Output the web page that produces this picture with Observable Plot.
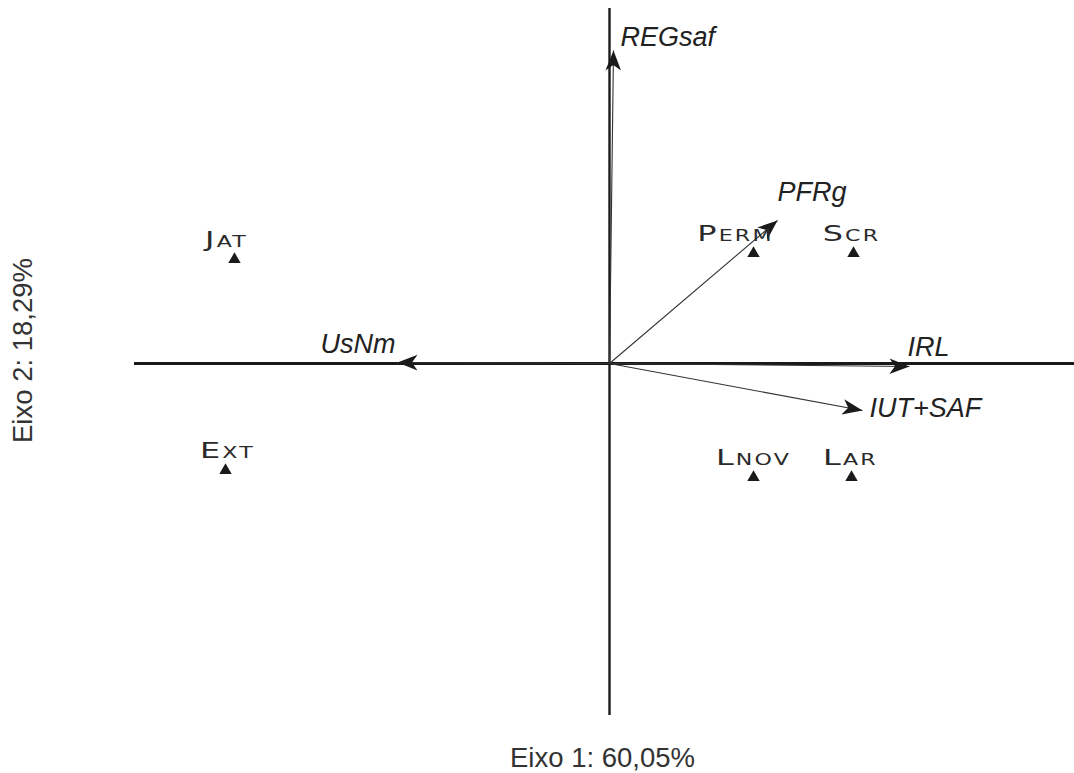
<!DOCTYPE html>
<html>
<head>
<meta charset="utf-8">
<script src="https://cdn.jsdelivr.net/npm/d3@7"></script>
<script src="https://cdn.jsdelivr.net/npm/@observablehq/plot@0.6"></script>
<style>
  html, body { margin: 0; padding: 0; background: #fff; }
  #chart svg { display: block; }
</style>
</head>
<body>
<div id="chart"></div>
<script>
// ---- Data ----
const sites = ["Jat", "Ext", "Perm", "Scr", "Lnov", "Lar"];
const siteAxis1 = [-3.75, -3.84, 1.44, 2.44, 1.44, 2.42];
const siteAxis2 = [1.04, -1.07, 1.10, 1.10, -1.14, -1.14];

const variables = ["REGsaf", "PFRg", "IRL", "IUT+SAF", "UsNm"];
const varAxis1 = [0.04, 1.68, 3.00, 2.53, -2.12];
const varAxis2 = [3.13, 1.43, -0.03, -0.47, 0.01];

const axis1Extent = [-4.75, 4.65];
const axis2Extent = [-3.52, 3.55];
const xTitle = "Eixo 1: 60,05%";
const yTitle = "Eixo 2: 18,29%";

// ---- Tables built from the arrays ----
const siteData = sites.map((name, i) => ({name, x: siteAxis1[i], y: siteAxis2[i]}));
const varData = variables.map((name, i) => ({name, x: varAxis1[i], y: varAxis2[i]}));

// label layout (pixel offsets only)
const siteDx = {Jat: -8, Ext: 2, Perm: -18, Scr: -2, Lnov: 0, Lar: -1};
const varLabel = {
  "REGsaf": {anchor: "start", dx: 7, dy: -13},
  "PFRg": {anchor: "start", dx: 0, dy: -28},
  "IRL": {anchor: "start", dx: -2, dy: -19},
  "IUT+SAF": {anchor: "start", dx: 7, dy: -2},
  "UsNm": {anchor: "end", dx: -2, dy: -18}
};

// filled arrowhead with its tip at the origin, pointing up
const arrowHead = {
  draw(context, size) {
    const r = Math.sqrt(size / Math.PI);
    context.moveTo(0, 0);
    context.lineTo(0.78 * r, 2 * r);
    context.lineTo(0, 1.45 * r);
    context.lineTo(-0.78 * r, 2 * r);
    context.closePath();
  }
};

const ink = "#1a1a1a";
const sansFont = "'Liberation Sans', Arial, sans-serif";

const marks = [
  // axes
  Plot.ruleY([0], {x1: axis1Extent[0], x2: axis1Extent[1], stroke: ink, strokeWidth: 3}),
  Plot.ruleX([0], {y1: axis2Extent[0], y2: axis2Extent[1], stroke: ink, strokeWidth: 2.4}),
  // vectors
  Plot.link(varData, {x1: () => 0, y1: () => 0, x2: "x", y2: "y", stroke: "#333", strokeWidth: 1.1}),
  Plot.dot(varData, {
    x: "x", y: "y", symbol: arrowHead, r: 10, fill: ink, stroke: "none",
    rotate: d => Math.atan2(d.x, d.y) * 180 / Math.PI
  }),
  // sites
  Plot.dot(siteData, {x: "x", y: "y", symbol: "triangle", r: 4.6, fill: ink, stroke: "none"})
];

for (const s of sites) {
  marks.push(Plot.text(siteData.filter(d => d.name === s), {
    x: "x", y: "y", text: "name", dy: -20, dx: siteDx[s],
    fontSize: 22, fill: "#2a2a2a", fontFamily: "'DejaVu Sans', sans-serif",
    fontVariant: "small-caps", textAnchor: "middle", className: "site-label"
  }));
}
for (const v of variables) {
  const o = varLabel[v];
  marks.push(Plot.text(varData.filter(d => d.name === v), {
    x: "x", y: "y", text: "name", dx: o.dx, dy: o.dy, textAnchor: o.anchor,
    fontSize: 27, fontStyle: "italic", fontFamily: sansFont, fill: "#222"
  }));
}

// axis titles
marks.push(Plot.text([xTitle], {x: () => 0, frameAnchor: "bottom", textAnchor: "middle", lineAnchor: "middle",
  dx: -7, dy: -15, fontSize: 27.5, fontFamily: sansFont, fill: "#333"}));
marks.push(Plot.text([yTitle], {y: () => 0, frameAnchor: "left", textAnchor: "middle", lineAnchor: "middle",
  dx: 23, dy: -13, rotate: -90, fontSize: 27.5, fontFamily: sansFont, fill: "#333"}));

const chart = Plot.plot({
  width: 1074,
  height: 773,
  margin: 0,
  x: {domain: axis1Extent, range: [134, 1074], axis: null},
  y: {domain: axis2Extent, range: [715, 8], axis: null},
  style: {background: "#fff"},
  marks
});

// extended, letter-spaced small caps for the site labels
chart.querySelectorAll("g.site-label text").forEach(t => {
  t.style.letterSpacing = "1.5px";
  const tr = t.getAttribute("transform") || "";
  t.setAttribute("transform", tr + " scale(1.45,1)");
});
document.getElementById("chart").append(chart);
</script>
</body>
</html>
